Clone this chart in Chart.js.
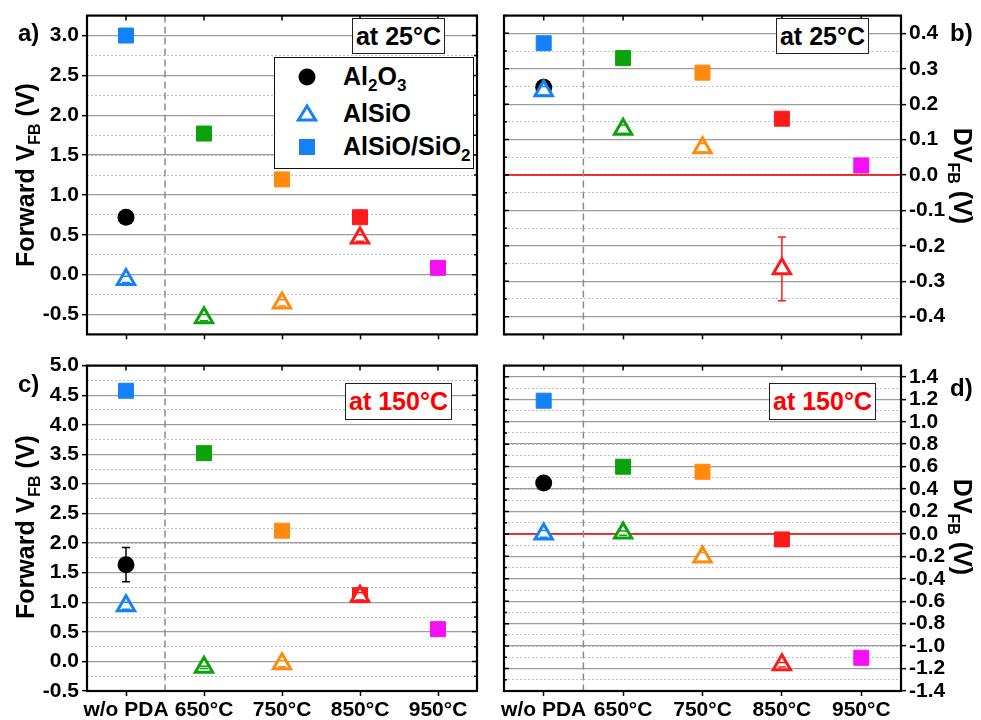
<!DOCTYPE html>
<html>
<head>
<meta charset="utf-8">
<script src="https://cdn.jsdelivr.net/npm/chart.js@4/dist/chart.umd.min.js"></script>
<style>
    body { margin: 0; background: #fff; }
    #page { position: relative; width: 981px; height: 720px; overflow: hidden;
        font-family: "Liberation Sans", Arial, sans-serif; font-weight: bold; color: #000; }
    #page canvas { position: absolute; }
    .txt { position: absolute; white-space: nowrap; line-height: 1; }
    .txt sub { font-size: 16px; vertical-align: -6px; line-height: 0; }
    .rot-l { transform: translate(-50%, -50%) rotate(-90deg); font-size: 25px; }
    .rot-r { transform: translate(-50%, -50%) rotate(90deg); font-size: 25px; }
    .tag { font-size: 24px; transform: translateY(-50%); }
    .box { position: absolute; box-sizing: border-box; border: 1.5px solid #222; background: #fff;
        display: flex; align-items: center; justify-content: center; font-size: 25px; }
    #legend { position: absolute; left: 274px; top: 57px; width: 200px; height: 112px;
        box-sizing: border-box; border: 1.5px solid #111; background: #fff; }
    #legend .row { position: absolute; left: 0; width: 100%; height: 30px; }
    #legend svg { position: absolute; left: 20px; top: 3px; }
    #legend span { position: absolute; left: 68px; top: 2px; font-size: 25px; line-height: 1; }
    #legend span sub { font-size: 17px; vertical-align: -6px; line-height: 0; }
</style>
</head>
<body>
<div id="page">
    <canvas id="chartA" width="490" height="350" style="left:0;top:0"></canvas>
    <canvas id="chartB" width="491" height="350" style="left:490px;top:0"></canvas>
    <canvas id="chartC" width="490" height="370" style="left:0;top:350px"></canvas>
    <canvas id="chartD" width="491" height="370" style="left:490px;top:350px"></canvas>

    <div class="txt tag" style="left:18px;top:33px">a)</div>
    <div class="txt tag" style="left:950px;top:33px">b)</div>
    <div class="txt tag" style="left:18px;top:384px">c)</div>
    <div class="txt tag" style="left:950px;top:388px">d)</div>

    <div class="txt rot-l" style="left:25px;top:175px">Forward V<sub>FB</sub> (V)</div>
    <div class="txt rot-l" style="left:25px;top:527px">Forward V<sub>FB</sub> (V)</div>
    <div class="txt rot-r" style="left:962px;top:176px">DV<sub>FB</sub> (V)</div>
    <div class="txt rot-r" style="left:962px;top:527px">DV<sub>FB</sub> (V)</div>

    <div class="box" style="left:352px;top:18px;width:93px;height:36px">at 25°C</div>
    <div class="box" style="left:776px;top:18px;width:93px;height:36px">at 25°C</div>
    <div class="box" style="left:345px;top:383px;width:107px;height:37px;color:#ff0000">at 150°C</div>
    <div class="box" style="left:769px;top:383px;width:107px;height:37px;color:#ff0000">at 150°C</div>

    <div id="legend">
        <div class="row" style="top:4px">
            <svg width="24" height="24" viewBox="-12 -12 24 24"><circle r="8.5" fill="#000"/></svg>
            <span>Al<sub>2</sub>O<sub>3</sub></span>
        </div>
        <div class="row" style="top:41px">
            <svg width="24" height="24" viewBox="-12 -12 24 24"><polygon points="0,-8 8.6,6 -8.6,6" fill="#fff" stroke="#1581f6" stroke-width="3"/></svg>
            <span>AlSiO</span>
        </div>
        <div class="row" style="top:74px">
            <svg width="24" height="24" viewBox="-12 -12 24 24"><rect x="-8" y="-8" width="16" height="16" fill="#1581f6"/></svg>
            <span>AlSiO/SiO<sub>2</sub></span>
        </div>
    </div>
</div>

<script>
const categories = ['w/o PDA', '650°C', '750°C', '850°C', '950°C'];

// a) forward VFB, measured at 25°C
const fwd25Al2O3 = [0.72, null, null, null, null];
const fwd25AlSiO = [-0.06, -0.54, -0.355, 0.46, null];
const fwd25AlSiOErr = [0.04, 0.04, 0.04, 0.04, null];
const fwd25Stack = [3.0, 1.77, 1.195, 0.72, 0.085];

// b) VFB shift at 25°C
const dv25Al2O3 = [0.248, null, null, null, null];
const dv25AlSiO = [0.238, 0.129, 0.077, -0.265, null];
const dv25AlSiOErr = [0.012, 0.012, 0.012, 0.09, null];
const dv25Stack = [0.372, 0.330, 0.289, 0.159, 0.027];

// c) forward VFB, measured at 150°C
const fwd150Al2O3 = [1.635, null, null, null, null];
const fwd150Al2O3Err = [0.29, null, null, null, null];
const fwd150AlSiO = [0.94, -0.10, -0.04, 1.10, null];
const fwd150AlSiOErr = [0.06, 0.02, 0.05, 0.06, null];
const fwd150Stack = [4.575, 3.52, 2.21, 1.12, 0.545];

// d) VFB shift at 150°C
const dv150Al2O3 = [0.454, null, null, null, null];
const dv150AlSiO = [0.0, 0.007, -0.206, -1.165, null];
const dv150AlSiOErr = [0.03, 0.02, 0.04, 0.02, null];
const dv150Stack = [1.187, 0.599, 0.554, -0.049, -1.104];

const pdaSplit = 0.5;   // boundary between "w/o PDA" and the annealed samples

const catColors = ['#1581f6', '#0ba20b', '#ff8a0d', '#fb1b1b', '#f50ff5'];

Chart.defaults.font.family = '"Liberation Sans", Arial, sans-serif';
Chart.defaults.color = '#000';

const decorPlugin = {
    id: 'decor',
    beforeDatasetsDraw(chart, args, opts) {
        const {ctx, chartArea: a, scales: {x, y}} = chart;
        ctx.save();
        if (opts.zeroLine) {
            const py = y.getPixelForValue(0);
            ctx.strokeStyle = '#ff0000';
            ctx.lineWidth = 1.5;
            ctx.beginPath(); ctx.moveTo(a.left, py); ctx.lineTo(a.right, py); ctx.stroke();
        }
        const px = x.getPixelForValue(opts.split);
        ctx.strokeStyle = '#8a8a8a';
        ctx.lineWidth = 1.5;
        ctx.setLineDash([7, 4]);
        ctx.beginPath(); ctx.moveTo(px, a.top); ctx.lineTo(px, a.bottom); ctx.stroke();
        ctx.restore();
    },
    afterDatasetsDraw(chart) {
        const {ctx, scales: {y}} = chart;
        ctx.save();
        chart.data.datasets.forEach((ds, di) => {
            if (!ds.errors) return;
            const meta = chart.getDatasetMeta(di);
            ds.errors.forEach((err, i) => {
                if (err == null || ds.data[i] == null) return;
                const pt = meta.data[i];
                const top = y.getPixelForValue(ds.data[i] + err);
                const bot = y.getPixelForValue(ds.data[i] - err);
                const color = Array.isArray(ds.pointBorderColor) ? ds.pointBorderColor[i] : ds.pointBorderColor;
                const gapUp = ds.pointStyle === 'triangle' ? ds.pointRadius + 1 : 0;
                const gapDown = ds.pointStyle === 'triangle' ? ds.pointRadius / 2 + 1 : 0;
                ctx.strokeStyle = color;
                ctx.lineWidth = 1.5;
                ctx.beginPath();
                if (top < pt.y - gapUp) { ctx.moveTo(pt.x, top); ctx.lineTo(pt.x, pt.y - gapUp); }
                if (bot > pt.y + gapDown) { ctx.moveTo(pt.x, pt.y + gapDown); ctx.lineTo(pt.x, bot); }
                ctx.moveTo(pt.x - 4, top); ctx.lineTo(pt.x + 4, top);
                ctx.moveTo(pt.x - 4, bot); ctx.lineTo(pt.x + 4, bot);
                ctx.stroke();
            });
        });
        ctx.restore();
    },
    afterDraw(chart, args, opts) {
        const {ctx, chartArea: a, scales: {x, y}} = chart;
        ctx.save();
        ctx.strokeStyle = '#000';
        ctx.lineWidth = 1.5;
        // inward ticks on the mirrored sides
        ctx.beginPath();
        x.ticks.forEach((t, i) => {
            const px = x.getPixelForTick(i);
            ctx.moveTo(px, a.top); ctx.lineTo(px, a.top + 5);
        });
        const side = opts.yRight ? a.left : a.right;
        const dir = opts.yRight ? 1 : -1;
        y.ticks.forEach(t => {
            const py = y.getPixelForValue(t.value);
            const len = t.label ? 5 : 3;
            ctx.moveTo(side, py); ctx.lineTo(side + dir * len, py);
        });
        ctx.stroke();
        ctx.lineWidth = 2.2;
        ctx.strokeRect(a.left, a.top, a.right - a.left, a.bottom - a.top);
        ctx.restore();
    }
};

function fmt(v) {
    let r = Math.round(v * 100) / 100;
    if (Math.abs(r) < 1e-9) r = 0;
    return r.toFixed(1);
}

function makeChart(id, p) {
    const isMajor = v => Math.abs(v * p.perUnit - Math.round(v * p.perUnit)) < 1e-6;
    const tickFont = {size: 21, weight: 'bold'};
    const datasets = [
        {
            label: 'AlSiO', data: p.tri, errors: p.triErr, order: 0,
            pointStyle: 'triangle', pointRadius: 10, pointBorderWidth: 3,
            pointBorderColor: catColors, pointBackgroundColor: '#fff', showLine: false
        },
        {
            label: 'AlSiO/SiO2', data: p.sq, order: 1,
            pointStyle: 'rect', pointRadius: 10.6, pointBorderWidth: 1,
            pointBorderColor: catColors, pointBackgroundColor: catColors, showLine: false
        },
        {
            label: 'Al2O3', data: p.circle, errors: p.circleErr, order: 2,
            pointStyle: 'circle', pointRadius: 8.5, pointBorderWidth: 0,
            pointBorderColor: '#000', pointBackgroundColor: '#000', showLine: false
        }
    ];
    return new Chart(document.getElementById(id), {
        type: 'line',
        data: {labels: categories, datasets},
        options: {
            responsive: false,
            animation: false,
            events: [],
            layout: {padding: p.padding},
            plugins: {
                legend: {display: false},
                tooltip: {enabled: false},
                decor: {split: pdaSplit, zeroLine: p.zeroLine, yRight: p.yPos === 'right'}
            },
            scales: {
                x: {
                    type: 'category', offset: true,
                    grid: {drawOnChartArea: false, drawTicks: true, tickLength: 5, tickColor: '#000', tickWidth: 1.5},
                    border: {display: false},
                    ticks: {display: p.showX, font: tickFont, padding: 2, autoSkip: false, maxRotation: 0},
                    afterFit: s => { s.height = p.xHeight; }
                },
                yMinor: {
                    type: 'linear', position: p.yPos, min: p.min, max: p.max,
                    ticks: {display: false, stepSize: p.step},
                    grid: {color: '#c2c2c2', lineWidth: 1, drawTicks: false},
                    border: {display: false, dash: [2, 2]},
                    afterFit: s => { s.width = 0; }
                },
                y: {
                    type: 'linear', position: p.yPos, min: p.min, max: p.max,
                    ticks: {
                        stepSize: p.step, autoSkip: false, font: tickFont, padding: 3,
                        callback: v => isMajor(v) ? fmt(v) : ''
                    },
                    grid: {
                        color: c => isMajor(c.tick.value) ? '#9c9c9c' : 'rgba(0,0,0,0)',
                        lineWidth: 1.3,
                        tickLength: 5, tickWidth: 1.5,
                        tickColor: c => isMajor(c.tick.value) ? '#000' : 'rgba(0,0,0,0)'
                    },
                    border: {display: false},
                    afterFit: s => { s.width = p.yWidth; }
                }
            }
        },
        plugins: [decorPlugin]
    });
}

makeChart('chartA', {
    circle: fwd25Al2O3, tri: fwd25AlSiO, triErr: fwd25AlSiOErr, sq: fwd25Stack,
    min: -0.75, max: 3.25, step: 0.25, perUnit: 2, yPos: 'left', showX: false, zeroLine: false,
    padding: {top: 12, right: 6, left: 0, bottom: 0}, yWidth: 87, xHeight: 10
});
makeChart('chartB', {
    circle: dv25Al2O3, tri: dv25AlSiO, triErr: dv25AlSiOErr, sq: dv25Stack,
    min: -0.45, max: 0.45, step: 0.05, perUnit: 10, yPos: 'right', showX: false, zeroLine: true,
    padding: {top: 12, right: 0, left: 14, bottom: 0}, yWidth: 80, xHeight: 10
});
makeChart('chartC', {
    circle: fwd150Al2O3, circleErr: fwd150Al2O3Err, tri: fwd150AlSiO, triErr: fwd150AlSiOErr, sq: fwd150Stack,
    min: -0.5, max: 5.0, step: 0.25, perUnit: 2, yPos: 'left', showX: true, zeroLine: false,
    padding: {top: 13, right: 6, left: 0, bottom: 0}, yWidth: 87, xHeight: 29
});
makeChart('chartD', {
    circle: dv150Al2O3, tri: dv150AlSiO, triErr: dv150AlSiOErr, sq: dv150Stack,
    min: -1.4, max: 1.5, step: 0.1, perUnit: 5, yPos: 'right', showX: true, zeroLine: true,
    padding: {top: 13, right: 0, left: 14, bottom: 0}, yWidth: 80, xHeight: 29
});
</script>
</body>
</html>
